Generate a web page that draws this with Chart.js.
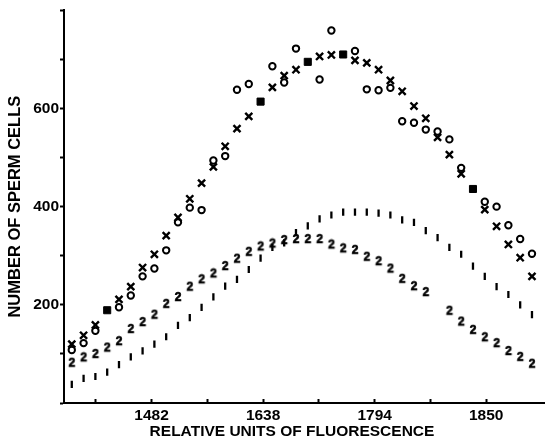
<!DOCTYPE html>
<html>
<head>
<meta charset="utf-8">
<script src="https://cdn.jsdelivr.net/npm/chart.js@4"></script>
<style>
html, body { margin: 0; padding: 0; background: #fff; }
</style>
</head>
<body>
<canvas id="grafico" width="552" height="441"></canvas>
<script>
// etiquetas del eje x (una marca cada 4.725 canales, con etiqueta cada dos)
const etiquetasX = ['', '1482', '', '1638', '', '1794', '', '1850'];

// serie "o" y serie "x" (canal 0..39); donde coinciden se dibuja un cuadrado lleno
const serieO = [108, 122, 147, 189, 195, 219, 258, 274, 311, 368,
                398, 393, 494, 503, 638, 650, 614, 686, 653, 722,
                695, 659, 759, 710, 717, 639, 637, 642, 574, 571,
                557, 553, 537, 479, 436, 410, 400, 362, 334, 304];
const serieX = [120, 138, 159, 189, 211, 237, 276, 303, 341, 378,
                416, 448, 481, 523, 559, 584, 614, 643, 667, 679,
                695, 706, 709, 710, 698, 693, 679, 657, 635, 605,
                580, 541, 506, 467, 436, 394, 360, 323, 296, 258];
// serie "1" (marcas verticales)
const serie1 = [38, 50, 54, 63, 78, 94, 106, 120, 135, 158,
                174, 195, 216, 238, 252, 272, 295, 317, 326, 347,
                361, 375, 383, 389, 389, 389, 387, 383, 373, 368,
                351, 337, 317, 303, 279, 258, 237, 221, 200, 180];
// serie "2"
const serie2 = [82, 93, 100, 113, 126, 151, 165, 180, 202, 216,
                237, 252, 264, 279, 294, 308, 319, 325, 332, 334,
                334, 334, 323, 315, 312, 298, 289, 274, 253, 238,
                226, null, 188, 166, 149, 134, 122, 106, 94, 80];

const fuente = 'Liberation Sans, Arial, Helvetica, sans-serif';

const puntos = (serie, filtro) => serie
    .map((v, i) => ({ x: i, y: v }))
    .filter((p, i) => p.y !== null && (!filtro || filtro(i)));

const ambos = (i) => serieO[i] === serieX[i];

function glifo(texto) {
    const c = document.createElement('canvas');
    c.width = 10;
    c.height = 12;
    const ctx = c.getContext('2d');
    ctx.fillStyle = '#000';
    ctx.strokeStyle = '#000';
    ctx.lineWidth = 0.7;
    ctx.font = 'bold 12px ' + fuente;
    ctx.textAlign = 'center';
    ctx.textBaseline = 'middle';
    ctx.fillText(texto, 5, 6.5);
    ctx.strokeText(texto, 5, 6.5);
    return c;
}

const tituloX = {
    id: 'tituloX',
    afterDraw(chart) {
        const ctx = chart.ctx;
        ctx.save();
        ctx.fillStyle = '#000';
        ctx.font = 'bold 15.5px ' + fuente;
        ctx.textAlign = 'center';
        ctx.textBaseline = 'middle';
        ctx.fillText('RELATIVE UNITS OF FLUORESCENCE', 292, 432);
        ctx.restore();
    }
};

const config = {
    type: 'scatter',
    data: {
        datasets: [
            {
                data: puntos(serie1),
                pointStyle: 'line',
                rotation: 90,
                pointRadius: 3.6,
                borderWidth: 2.3,
                borderColor: '#000',
                backgroundColor: '#000'
            },
            {
                data: puntos(serie2),
                pointStyle: glifo('2'),
                pointRadius: 5
            },
            {
                data: puntos(serieX, (i) => !ambos(i)),
                pointStyle: 'crossRot',
                pointRadius: 5,
                borderWidth: 2.4,
                borderColor: '#000',
                backgroundColor: '#000'
            },
            {
                data: puntos(serieO, (i) => !ambos(i)),
                pointStyle: 'circle',
                pointRadius: 3.2,
                borderWidth: 2,
                borderColor: '#000',
                backgroundColor: 'rgba(0,0,0,0)'
            },
            {
                data: puntos(serieO, ambos),
                pointStyle: 'rect',
                pointRadius: 5,
                borderWidth: 1,
                borderColor: '#000',
                backgroundColor: '#000'
            }
        ]
    },
    options: {
        responsive: false,
        animation: false,
        layout: { padding: 0 },
        plugins: {
            legend: { display: false },
            tooltip: { enabled: false }
        },
        scales: {
            x: {
                type: 'linear',
                min: -0.66,
                max: 40.07,
                afterBuildTicks: (s) => {
                    s.ticks = etiquetasX.map((e, k) => ({ value: 2.04 + 4.725 * k }));
                },
                afterFit: (s) => { s.height = 38; },
                ticks: {
                    autoSkip: false,
                    maxRotation: 0,
                    padding: 7,
                    color: '#000',
                    font: { family: fuente, size: 15.5, weight: 'bold' },
                    callback: (v, i) => etiquetasX[i]
                },
                grid: {
                    drawOnChartArea: false,
                    tickLength: -4,
                    tickWidth: 2,
                    tickColor: '#000'
                },
                border: { color: '#000', width: 2 }
            },
            y: {
                min: 0,
                max: 800,
                afterFit: (s) => { s.width = 64; },
                ticks: {
                    stepSize: 100,
                    padding: 1,
                    color: '#000',
                    font: { family: fuente, size: 15.5, weight: 'bold' },
                    callback: (v) => (v === 200 || v === 400 || v === 600) ? v : ''
                },
                grid: {
                    drawOnChartArea: false,
                    tickLength: 4,
                    tickWidth: 2,
                    tickColor: '#000'
                },
                border: { color: '#000', width: 2 },
                title: {
                    display: true,
                    text: 'NUMBER OF SPERM CELLS',
                    color: '#000',
                    padding: { top: 6, bottom: 0 },
                    font: { family: fuente, size: 16.5, weight: 'bold' }
                }
            }
        }
    },
    plugins: [tituloX]
};

const myChart = new Chart(document.getElementById('grafico'), config);
</script>
</body>
</html>
